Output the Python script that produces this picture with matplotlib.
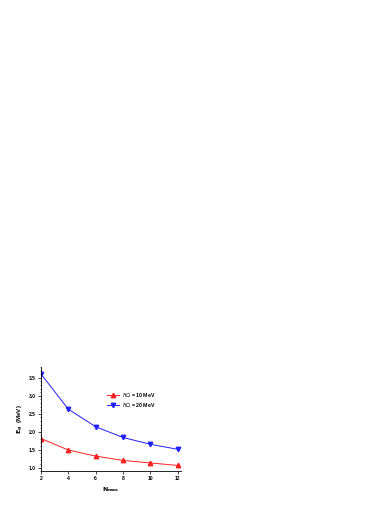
import matplotlib
matplotlib.use('Agg')
import matplotlib.pyplot as plt
from matplotlib.ticker import MultipleLocator

# N_max values and gap energies
nmax = [2, 4, 6, 8, 10, 12]
eg_10mev = [1.81, 1.49, 1.32, 1.20, 1.13, 1.06]
eg_20mev = [3.61, 2.63, 2.14, 1.84, 1.65, 1.51]
labels = [r'$\hbar\Omega$ = 10 MeV', r'$\hbar\Omega$ = 20 MeV']

plt.rcParams['font.family'] = ['Liberation Sans', 'DejaVu Sans']
plt.rcParams['mathtext.fontset'] = 'dejavusans'

fig = plt.figure(figsize=(3.9, 5.05), dpi=100)
ax = fig.add_axes([0.105, 0.067, 0.359, 0.206])

ax.plot(nmax, eg_10mev, color='#ff2020', marker='^', markersize=3.2,
        linewidth=0.7, label=labels[0])
ax.plot(nmax, eg_20mev, color='#2020ff', marker='v', markersize=3.2,
        linewidth=0.7, label=labels[1])

ax.set_xlim(2, 12.25)
ax.set_ylim(0.9, 3.8)
ax.set_xticks(nmax)
ax.yaxis.set_major_locator(MultipleLocator(0.5))
ax.yaxis.set_minor_locator(MultipleLocator(0.1))
ax.tick_params(axis='both', which='major', labelsize=3.6, length=2,
               width=0.5, pad=1.5)
ax.tick_params(axis='y', which='minor', length=1, width=0.4)
for lab in ax.get_xticklabels() + ax.get_yticklabels():
    lab.set_fontweight('bold')

for side in ['top', 'right']:
    ax.spines[side].set_visible(False)
for side in ['left', 'bottom']:
    ax.spines[side].set_linewidth(0.6)

ax.set_xlabel(r'$\mathbf{N_{max}}$', fontsize=4.5, labelpad=3)
ax.set_ylabel(r'$\mathbf{E_g}$  (MeV)', fontsize=4.5, fontweight='bold',
              labelpad=2)

leg = ax.legend(loc='upper left', bbox_to_anchor=(0.44, 0.82), frameon=False,
                handlelength=2.2, labelspacing=0.45, handletextpad=0.6,
                prop={'weight': 'bold', 'size': 3.8})

fig.savefig('out.png', dpi=100)
